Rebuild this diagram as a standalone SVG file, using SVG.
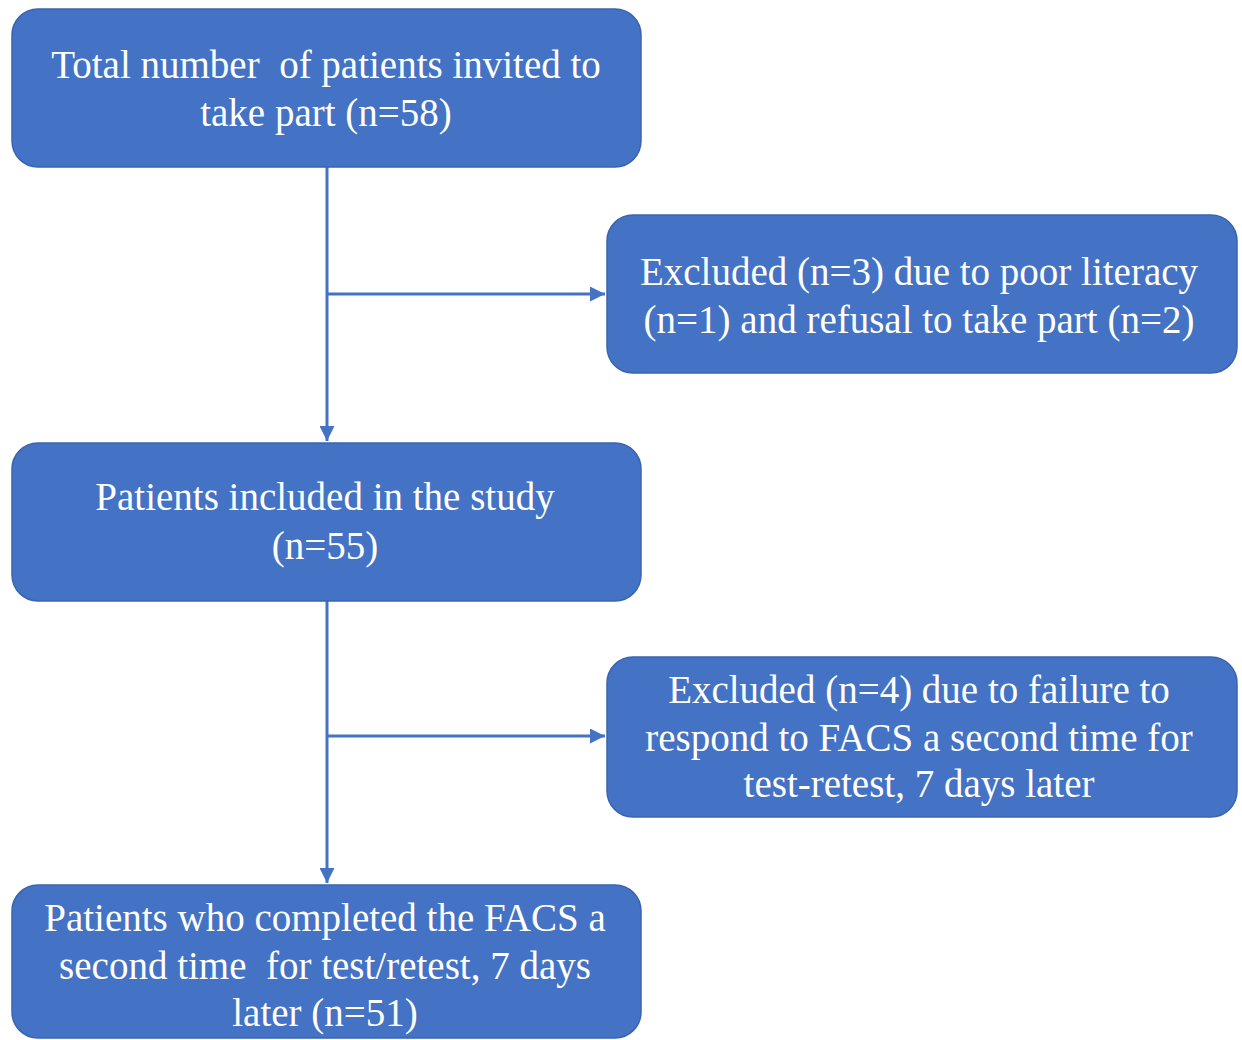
<svg xmlns="http://www.w3.org/2000/svg" width="1242" height="1040" viewBox="0 0 1242 1040">
<style>
.box{fill:#4472C4;stroke:#3A64B0;stroke-width:1.5}
.t{font-family:"Liberation Serif","Times New Roman",serif;font-size:39px;fill:#FFFFFF;text-anchor:middle}
.c{stroke:#4472C4;stroke-width:3;fill:none}
</style>
<defs>
<marker id="ah" viewBox="0 0 10 10" refX="10" refY="5" markerWidth="5" markerHeight="5" orient="auto" markerUnits="strokeWidth">
<path d="M0,0 L10,5 L0,10 Z" fill="#4472C4"/>
</marker>
</defs>
<rect width="1242" height="1040" fill="#FFFFFF"/>
<g id="connectors">
<line class="c" x1="327" y1="167" x2="327" y2="441" marker-end="url(#ah)"/>
<line class="c" x1="327" y1="294" x2="605" y2="294" marker-end="url(#ah)"/>
<line class="c" x1="327" y1="601" x2="327" y2="883" marker-end="url(#ah)"/>
<line class="c" x1="327" y1="736" x2="605" y2="736" marker-end="url(#ah)"/>
</g>
<g id="node1">
<rect class="box" x="12" y="9" width="629" height="158" rx="26"/>
<text class="t" x="326" y="78">Total number&#160; of patients invited to</text>
<text class="t" x="326" y="126">take part (n=58)</text>
</g>
<g id="node2">
<rect class="box" x="607" y="215" width="630" height="158" rx="26"/>
<text class="t" x="919" y="285">Excluded (n=3) due to poor literacy</text>
<text class="t" x="919" y="333">(n=1) and refusal to take part (n=2)</text>
</g>
<g id="node3">
<rect class="box" x="12" y="443" width="629" height="158" rx="26"/>
<text class="t" x="325" y="510">Patients included in the study</text>
<text class="t" x="325" y="559">(n=55)</text>
</g>
<g id="node4">
<rect class="box" x="607" y="657" width="630" height="160" rx="26"/>
<text class="t" x="919" y="703">Excluded (n=4) due to failure to</text>
<text class="t" x="919" y="751">respond to FACS a second time for</text>
<text class="t" x="919" y="797">test-retest, 7 days later</text>
</g>
<g id="node5">
<rect class="box" x="12" y="885" width="629" height="153" rx="26"/>
<text class="t" x="325" y="931">Patients who completed the FACS a</text>
<text class="t" x="325" y="979">second time&#160; for test/retest, 7 days</text>
<text class="t" x="325" y="1026">later (n=51)</text>
</g>
</svg>
